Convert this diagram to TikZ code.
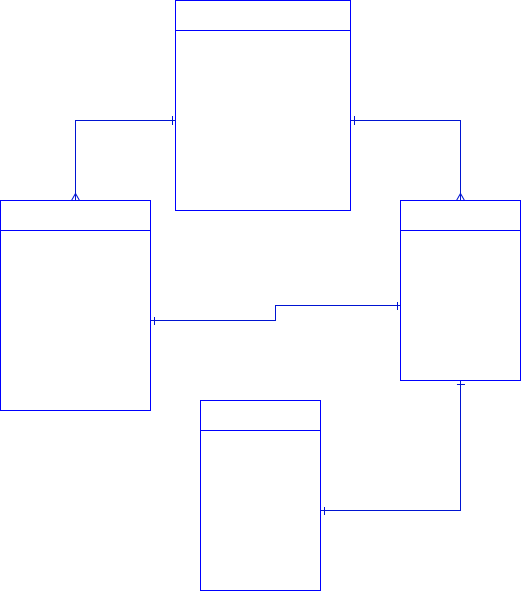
\documentclass[tikz,border=0pt]{standalone}
\begin{document}
\begin{tikzpicture}[x=1pt,y=-1pt,
  ent/.style={draw=blue,line width=1pt,outer sep=0pt,inner sep=0pt,anchor=north west},
  conn/.style={draw={rgb,255:red,0;green,20;blue,210},line width=1pt},
  tick/.style={draw={rgb,255:red,0;green,20;blue,210},line width=0.9pt}]
\fill[white] (0,0) rectangle (521,591);
\useasboundingbox (0,0) rectangle (521,591);
% entities
\node[ent,minimum width=175pt,minimum height=209.5pt] (top) at (175.5,0.5) {};
\draw[ent] (175.5,30.5) -- (350.5,30.5);
\node[ent,minimum width=150pt,minimum height=210pt] (left) at (0.5,200.5) {};
\draw[ent] (0.5,230.5) -- (150.5,230.5);
\node[ent,minimum width=120pt,minimum height=180pt] (right) at (400.5,200.5) {};
\draw[ent] (400.5,230.5) -- (520.5,230.5);
\node[ent,minimum width=120pt,minimum height=189.5pt] (bot) at (200.5,400.5) {};
\draw[ent] (200.5,430.5) -- (320.5,430.5);
% coordinates
\coordinate (tl) at (top.west |- 0,120.5);
\coordinate (tr) at (top.east |- 0,120.5);
\coordinate (lt) at (75.5,0 |- left.north);
\coordinate (rt) at (460.5,0 |- right.north);
\coordinate (lr) at (left.east |- 0,320.5);
\coordinate (rl) at (right.west |- 0,305.5);
\coordinate (rb) at (460.5,0 |- right.south);
\coordinate (br) at (bot.east |- 0,510.5);
% connectors
\draw[conn] (tl) -| (lt);
\draw[conn] (tr) -| (rt);
\draw[conn] (lr) -- (275.5,320.5) -- (275.5,305.5) -- (rl);
\draw[conn] (br) -| (rb);
% bars
\draw[tick] ([xshift=-3.5pt,yshift=-4pt]tl) -- ([xshift=-3.5pt,yshift=4pt]tl);
\draw[tick] ([xshift=3.5pt,yshift=-4pt]tr) -- ([xshift=3.5pt,yshift=4pt]tr);
\draw[tick] ([xshift=3.5pt,yshift=-4pt]lr) -- ([xshift=3.5pt,yshift=4pt]lr);
\draw[tick] ([xshift=-3.5pt,yshift=-4pt]rl) -- ([xshift=-3.5pt,yshift=4pt]rl);
\draw[tick] ([xshift=3.5pt,yshift=-4pt]br) -- ([xshift=3.5pt,yshift=4pt]br);
\draw[tick] ([xshift=-4pt,yshift=-3.5pt]rb) -- ([xshift=4pt,yshift=-3.5pt]rb);
% crow's feet
\draw[tick] ([xshift=-4pt]lt) -- ([yshift=7pt]lt) -- ([xshift=4pt]lt);
\draw[tick] ([xshift=-4pt]rt) -- ([yshift=7pt]rt) -- ([xshift=4pt]rt);
\end{tikzpicture}
\end{document}
